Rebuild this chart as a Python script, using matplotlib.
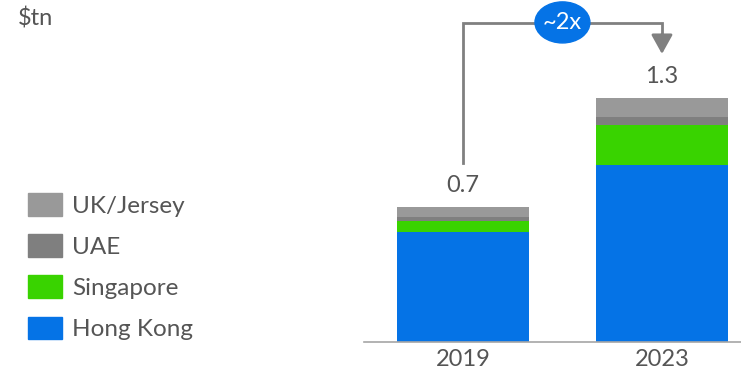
import matplotlib.pyplot as plt
from matplotlib.patches import Patch, Ellipse

plt.rcParams['font.family'] = ['Lato', 'DejaVu Sans']

years = ['2019', '2023']
totals = ['0.7', '1.3']
series = ['Hong Kong', 'Singapore', 'UAE', 'UK/Jersey']
hong_kong = [0.58, 0.933]
singapore = [0.058, 0.209]
uae = [0.018, 0.04]
uk_jersey = [0.056, 0.103]
colors = ['#0573E6', '#39D300', '#7F7F7F', '#999999']

text_color = '#555555'
line_color = '#808080'

fig = plt.figure(figsize=(7.41, 3.76), dpi=100)
ax = fig.add_axes([364 / 741, 34 / 376, 377 / 741, 342 / 376])

x = list(range(len(years)))
bottom = [0.0, 0.0]
for name, vals, c in zip(series, [hong_kong, singapore, uae, uk_jersey], colors):
    ax.bar(x, vals, width=0.663, bottom=bottom, color=c, label=name)
    bottom = [b + v for b, v in zip(bottom, vals)]

# total labels above each bar
for xi, top, lab in zip(x, bottom, totals):
    ax.text(xi, top + 0.055, lab, ha='center', va='bottom', fontsize=17, color=text_color)

ax.set_xlim(-0.497, 1.397)
ax.set_ylim(0, 1.8)
ax.set_xticks(x)
ax.set_xticklabels(years, fontsize=17, color=text_color)
ax.tick_params(axis='x', length=0, pad=5)
ax.set_yticks([])
for s in ['top', 'left', 'right']:
    ax.spines[s].set_visible(False)
ax.spines['bottom'].set_color('#A6A6A6')
ax.spines['bottom'].set_linewidth(1.2)

# growth bracket with arrow
ax.plot([0, 0, 1, 1], [0.94, 1.68, 1.68, 1.6], color=line_color, lw=2,
        clip_on=False, solid_joinstyle='miter')
ax.annotate('', xy=(1, 1.516), xytext=(1, 1.62),
            arrowprops=dict(arrowstyle='-|>,head_length=0.9,head_width=0.5',
                            mutation_scale=13, color=line_color, lw=2,
                            shrinkA=0, shrinkB=0))
ax.add_patch(Ellipse((0.5, 1.682), 0.276, 0.216, color='#0573E6', clip_on=False, zorder=5))
ax.text(0.5, 1.682, '~2x', ha='center', va='center', fontsize=17, color='white', zorder=6)

fig.text(18 / 741, 1 - 7 / 376, '$tn', ha='left', va='top', fontsize=17, color=text_color)

handles = [Patch(color=c) for c in colors][::-1]
leg = fig.legend(handles, series[::-1], loc='upper left',
                 bbox_to_anchor=(28 / 741, 1 - 193 / 376), frameon=False,
                 fontsize=17.5, handlelength=1.4, handleheight=1.07,
                 handletextpad=0.42, labelspacing=0.72, borderpad=0, borderaxespad=0)
for t in leg.get_texts():
    t.set_color(text_color)

fig.savefig('out.png', dpi=100)
